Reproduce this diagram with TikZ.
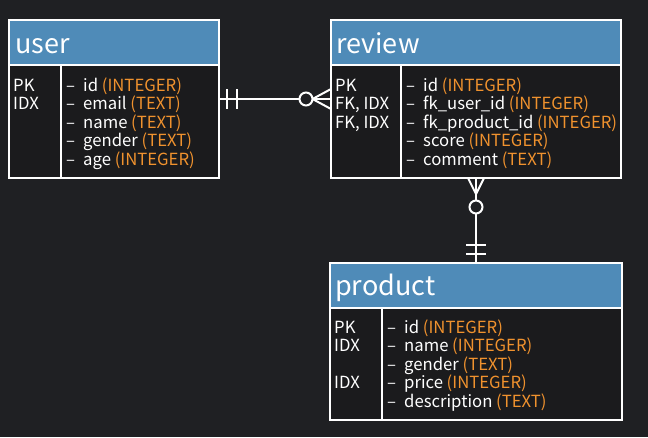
\documentclass[tikz,border=0pt]{standalone}
\usepackage{fontspec}
\setmainfont{Noto Sans CJK KR}
\definecolor{bgc}{HTML}{1F2023}
\definecolor{bodyc}{HTML}{1B1B1D}
\definecolor{hdrc}{HTML}{4F8BB8}
\definecolor{orng}{HTML}{F0922E}
\begin{document}
\begin{tikzpicture}[x=1pt,y=-1pt,
  hdr/.style={draw=white,line width=1.8pt,fill=hdrc,minimum width=#1,minimum height=45pt,inner sep=0pt,outer sep=0pt},
  bodybox/.style={draw=white,line width=1.8pt,fill=bodyc,inner sep=0pt,outer sep=0pt},
  title/.style={text=white,font=\fontsize{27}{30}\selectfont,anchor=base west,inner sep=0pt},
  txt/.style={text=white,font=\fontsize{16.7}{18.5}\selectfont,anchor=base west,inner sep=0pt},
  link/.style={draw=white,line width=2pt},
  ty/.style={text=orng}]
\fill[bgc] (0,0) rectangle (648,437);
\useasboundingbox (0,0) rectangle (648,437);

% ---------- user ----------
\node[bodybox,minimum width=210pt,minimum height=113pt,anchor=north west] (ubody) at (9,65) {};
\node[hdr=210pt,anchor=south west] (uhead) at (ubody.north west) {};
\draw[link] (61,65) -- (61,178);
\node[title] (ut) at (15,53) {user};
\node[txt] (ul1) at (13,91) {PK};
\node[txt] (ul2) at (13,109.5) {IDX};
\foreach \i/\y/\a/\b in {1/91/id/INTEGER,2/109.5/email/TEXT,3/128/name/TEXT,4/146.5/gender/TEXT,5/165/age/INTEGER}{
  \node[txt] (ud\i) at (66,\y) {–};
  \node[txt] (uf\i) at (83,\y) {\a\ \textcolor{orng}{(\b)}};
}

% ---------- review ----------
\node[bodybox,minimum width=290pt,minimum height=113pt,anchor=north west] (rbody) at (331,65) {};
\node[hdr=290pt,anchor=south west] (rhead) at (rbody.north west) {};
\draw[link] (401,65) -- (401,178);
\node[title] (rt) at (336,53) {review};
\node[txt] (rl1) at (335,91) {PK};
\node[txt] (rl2) at (335,109.5) {FK, IDX};
\node[txt] (rl3) at (335,128) {FK, IDX};
\foreach \i/\y/\a/\b in {1/91/id/INTEGER,2/109.5/fk\_user\_id/INTEGER,3/128/fk\_product\_id/INTEGER,4/146.5/score/INTEGER,5/165/comment/TEXT}{
  \node[txt] (rd\i) at (406,\y) {–};
  \node[txt] (rf\i) at (423,\y) {\a\ \textcolor{orng}{(\b)}};
}

% ---------- product ----------
\node[bodybox,minimum width=292pt,minimum height=112pt,anchor=north west] (pbody) at (330,308) {};
\node[hdr=292pt,anchor=south west] (phead) at (pbody.north west) {};
\draw[link] (382,308) -- (382,420);
\node[title] (pt) at (335,295) {product};
\node[txt] (pl1) at (334,333) {PK};
\node[txt] (pl2) at (334,351.5) {IDX};
\node[txt] (pl4) at (334,388.5) {IDX};
\foreach \i/\y/\a/\b in {1/333/id/INTEGER,2/351.5/name/INTEGER,3/370/gender/TEXT,4/388.5/price/INTEGER,5/407/description/TEXT}{
  \node[txt] (pd\i) at (387,\y) {–};
  \node[txt] (pf\i) at (404,\y) {\a\ \textcolor{orng}{(\b)}};
}

% ---------- user -- review ----------
\coordinate (lk1) at (0,99);
\coordinate (c1) at (306,99);
\draw[link] (ubody.east |- lk1) -- (c1);
\draw[link] (227,89) -- (227,109);
\draw[link] (237,89) -- (237,109);
\draw[link] (312.5,99) -- (rbody.west |- lk1);
\draw[link] (312.5,99) -- (rbody.west |- 0,89);
\draw[link] (312.5,99) -- (rbody.west |- 0,109);
\draw[link,fill=bgc] (c1) circle[radius=6.5pt];

% ---------- review -- product ----------
\coordinate (lk2) at (476,0);
\coordinate (c2) at (476,207);
\draw[link] (c2) -- (phead.north -| lk2);
\draw[link] (rbody.south -| lk2) -- (c2);
\draw[link] (476,194) -- (rbody.south -| 468,0);
\draw[link] (476,194) -- (rbody.south -| 484,0);
\draw[link] (466,245) -- (486,245);
\draw[link] (466,254) -- (486,254);
\draw[link,fill=bgc] (c2) circle[radius=6.5pt];
\end{tikzpicture}
\end{document}
